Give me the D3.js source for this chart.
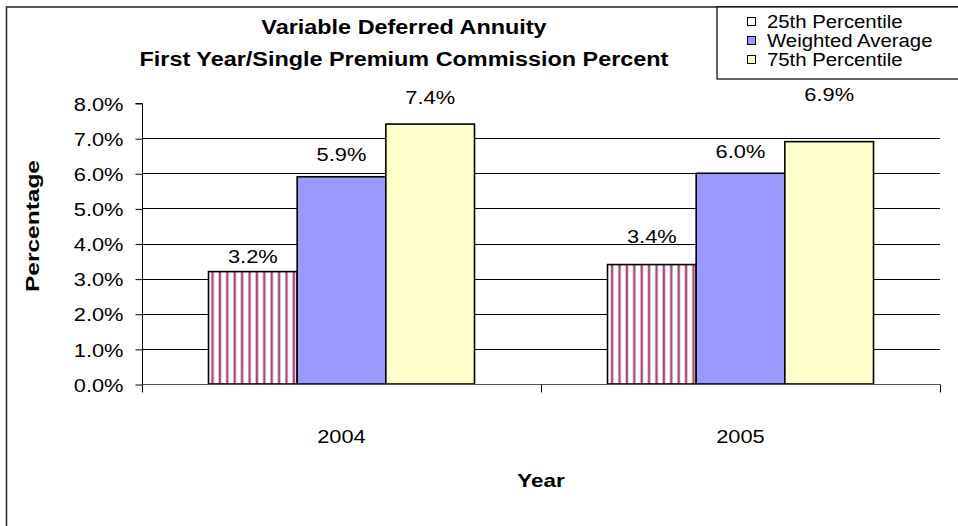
<!DOCTYPE html>
<html>
<head>
<meta charset="utf-8">
<script src="https://cdn.jsdelivr.net/npm/d3@7/dist/d3.min.js"></script>
<style>
  html, body { margin: 0; padding: 0; background: #fff; }
  svg { display: block; }
  text { font-family: "Liberation Sans", Arial, sans-serif; fill: #000; }
</style>
</head>
<body>
<svg id="chart" width="958" height="526"></svg>
<script>
// ---- data ----
const years = ["2004", "2005"];
const seriesNames = ["25th Percentile", "Weighted Average", "75th Percentile"];
const p25 = [3.2, 3.4];
const weightedAvg = [5.9, 6.0];
const p75 = [7.4, 6.9];
const yTicks = [0, 1, 2, 3, 4, 5, 6, 7, 8];
const titleLines = ["Variable Deferred Annuity", "First Year/Single Premium Commission Percent"];

// ---- layout / style ----
const SX = 1.18; // horizontal stretch of the original picture
const FS = 18.5;
const colors = ["url(#stripes)", "#9999FF", "#FFFFCC"];
const plot = { left: 142, right: 940, top: 103, bottom: 384 };
// gap (px) between bar top and its value label baseline, per year / series (labels were hand-placed)
const labelLift = [[9, 16, 20], [22, 15, 41]];

const svg = d3.select("#chart");
const defs = svg.append("defs");
const pat = defs.append("pattern").attr("id", "stripes")
  .attr("patternUnits", "userSpaceOnUse").attr("width", 7.4).attr("height", 10)
  .attr("x", 208);
pat.append("rect").attr("width", 7.4).attr("height", 10).attr("fill", "#fff");
pat.append("rect").attr("x", 3).attr("width", 3).attr("height", 10).attr("fill", "#d49cba");
pat.append("rect").attr("x", 3.8).attr("width", 1.4).attr("height", 10).attr("fill", "#993366");

function stretchText(sel, factor) {
  sel.each(function() {
    const len = this.getComputedTextLength();
    d3.select(this).attr("textLength", len * factor).attr("lengthAdjust", "spacingAndGlyphs");
  });
  return sel;
}

// outer chart border
svg.append("rect").attr("x", 6.5).attr("y", 7).attr("width", 1000).attr("height", 600)
  .attr("fill", "none").attr("stroke", "#222").attr("stroke-width", 1.5);

const y = d3.scaleLinear().domain([0, 8]).range([plot.bottom, plot.top]);
const x0 = d3.scaleBand().domain(years).range([plot.left, plot.right]).padding(0);
const x1 = d3.scaleBand().domain(seriesNames).range([0, x0.bandwidth()])
  .paddingInner(0).paddingOuter(0.75);

// gridlines
svg.append("g").selectAll("line").data(yTicks.filter(t => t > 0 && t < 8)).join("line")
  .attr("x1", plot.left).attr("x2", plot.right)
  .attr("y1", d => Math.round(y(d)) + 0.5).attr("y2", d => Math.round(y(d)) + 0.5)
  .attr("stroke", "#000").attr("stroke-width", 1);

// y axis
const yAxis = d3.axisLeft(y).tickValues(yTicks).tickSize(7).tickPadding(12)
  .tickFormat(d => d.toFixed(1) + "%");
const gy = svg.append("g").attr("transform", `translate(${plot.left + 0.5},0.5)`).call(yAxis);
gy.select(".domain").attr("stroke", "#000").attr("d", `M-7,${y(8)}H0V${y(0)}`);
gy.selectAll(".tick line").attr("stroke", "#000");
gy.selectAll(".tick text").attr("font-size", FS).attr("font-family", "Liberation Sans, Arial, sans-serif")
  .attr("dy", "0.36em").attr("fill", "#000");
stretchText(gy.selectAll(".tick text"), SX);

// bars
const seriesVals = [p25, weightedAvg, p75];
const barData = [];
years.forEach((yr, i) => seriesNames.forEach((s, j) => barData.push({ yr, i, s, j, v: seriesVals[j][i] })));

svg.append("g").selectAll("rect").data(barData).join("rect")
  .attr("x", d => x0(d.yr) + x1(d.s))
  .attr("y", d => y(d.v))
  .attr("width", x1.bandwidth())
  .attr("height", d => y(0) - y(d.v))
  .attr("fill", d => colors[d.j])
  .attr("stroke", "#000").attr("stroke-width", 1.6);

// x axis
const xAxis = d3.axisBottom(x0).tickSize(0).tickPadding(0);
const gx = svg.append("g").attr("transform", `translate(0,${plot.bottom + 0.5})`).call(xAxis);
gx.select(".domain").attr("stroke", "#555").attr("d", `M${plot.left},0H${plot.right}`);
gx.selectAll(".tick text").remove();
const bounds = [plot.left, x0(years[1]), plot.right];
gx.append("g").selectAll("line").data(bounds).join("line")
  .attr("x1", d => d + 0.5).attr("x2", d => d + 0.5).attr("y1", 0).attr("y2", 8)
  .attr("stroke", "#000");
const catLabels = svg.append("g").selectAll("text").data(years).join("text")
  .attr("x", d => x0(d) + x0.bandwidth() / 2).attr("y", 443)
  .attr("text-anchor", "middle").attr("font-size", FS).text(d => d);
stretchText(catLabels, SX);

// value labels
const vLabels = svg.append("g").selectAll("text").data(barData).join("text")
  .attr("x", d => x0(d.yr) + x1(d.s) + x1.bandwidth() / 2)
  .attr("y", d => y(d.v) - labelLift[d.i][d.j])
  .attr("text-anchor", "middle").attr("font-size", FS)
  .text(d => d.v.toFixed(1) + "%");
stretchText(vLabels, SX);

// titles
const t = svg.append("g").selectAll("text").data(titleLines).join("text")
  .attr("x", 404).attr("y", (d, i) => 34 + i * 32)
  .attr("text-anchor", "middle").attr("font-size", 20).attr("font-weight", "bold")
  .text(d => d);
stretchText(t, 1.17);

const xt = svg.append("text").attr("x", 541).attr("y", 487).attr("text-anchor", "middle")
  .attr("font-size", 19).attr("font-weight", "bold").text("Year");
stretchText(xt, SX);

svg.append("text").attr("transform", "translate(39,226) rotate(-90)")
  .attr("text-anchor", "middle").attr("font-size", 19).attr("font-weight", "bold")
  .attr("textLength", 132).attr("lengthAdjust", "spacingAndGlyphs").text("Percentage");

// legend
const lp = defs.append("pattern").attr("id", "legstripes").attr("patternUnits", "userSpaceOnUse")
  .attr("width", 20).attr("height", 20).attr("x", 747);
lp.append("rect").attr("width", 20).attr("height", 20).attr("fill", "#fff");
lp.append("rect").attr("x", 4).attr("width", 2).attr("height", 20).attr("fill", "#a34a78");

const lg = svg.append("g");
lg.append("rect").attr("x", 717).attr("y", 7).attr("width", 300).attr("height", 72)
  .attr("fill", "#fff").attr("stroke", "#000").attr("stroke-width", 1.2);
const rows = lg.selectAll("g.row").data(seriesNames).join("g").attr("class", "row")
  .attr("transform", (d, i) => `translate(747,${22 + i * 19})`);
rows.append("rect").attr("x", 0.5).attr("y", -4.5).attr("width", 8).attr("height", 8)
  .attr("fill", (d, i) => i === 0 ? "url(#legstripes)" : colors[i]).attr("stroke", "#000").attr("stroke-width", 1);
const lt = rows.append("text").attr("x", 20).attr("y", 6).attr("font-size", 18).text(d => d);
stretchText(lt, 1.13);
</script>
</body>
</html>
